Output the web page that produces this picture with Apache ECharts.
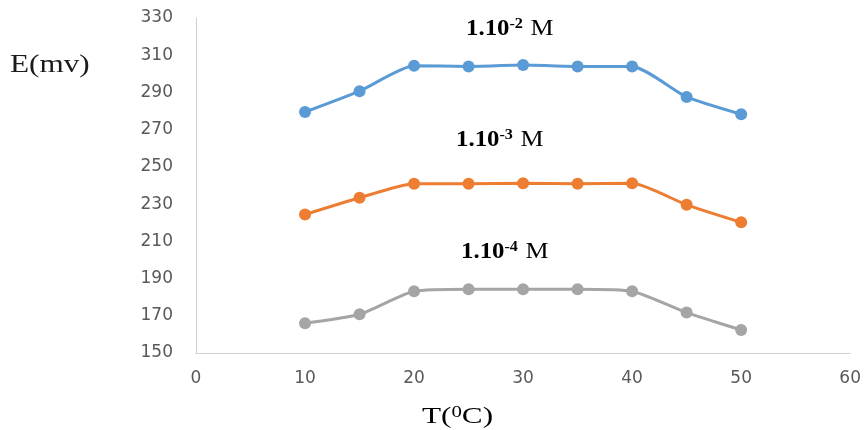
<!DOCTYPE html>
<html><head><meta charset="utf-8">
<script src="https://cdn.jsdelivr.net/npm/echarts@6/dist/echarts.min.js"></script>
<style>html,body{margin:0;padding:0;background:#fff}#c{width:864px;height:430px}</style>
</head><body><div id="c"></div>
<script>
const temps = [10, 15, 20, 25, 30, 35, 40, 45, 50];
const e1e2 = [279.5, 290.7, 304.3, 304.0, 304.7, 304.0, 304.0, 287.6, 278.3];
const e1e3 = [224.4, 233.4, 241.0, 241.0, 241.2, 241.0, 241.2, 229.6, 220.2];
const e1e4 = [166.0, 170.8, 183.2, 184.3, 184.3, 184.3, 183.2, 171.7, 162.4];
const seriesNames = ['1.10-2 M', '1.10-3 M', '1.10-4 M'];
const colors = ['#5B9BD5', '#ED7D31', '#A5A5A5'];
const xTicks = {min: 0, max: 60, interval: 10};
const yTicks = {min: 150, max: 330, interval: 20};

const chart = echarts.init(document.getElementById('c'));
const mk = (vals, i) => ({
  name: seriesNames[i], type: 'line', smooth: 0.2,
  data: temps.map((t, k) => [t, vals[k]]),
  symbol: 'circle', symbolSize: 12,
  lineStyle: {color: colors[i], width: 3},
  itemStyle: {color: colors[i]}
});
const richLbl = {
  a: {fontFamily: 'Liberation Serif', fontWeight: 'bold', fontSize: 23, color: '#1a1a1a'},
  s: {fontFamily: 'Liberation Serif', fontWeight: 'bold', fontSize: 15, color: '#1a1a1a', padding: [0, 1, 10, 0]},
  m: {fontFamily: 'Liberation Serif', fontWeight: 'normal', fontSize: 24, color: '#1a1a1a'}
};
const lbl = (x, y, exp) => ({
  type: 'text', x: x, y: y, scaleX: 1.08,
  style: {text: '{a|1.10}{s|' + exp + '}{m| M}', rich: richLbl, verticalAlign: 'middle'}
});
chart.setOption({
  animation: false,
  grid: {left: 196, right: 13, top: 18, bottom: 77},
  xAxis: {
    type: 'value', min: xTicks.min, max: xTicks.max, interval: xTicks.interval,
    axisLine: {lineStyle: {color: '#D0D0D0', width: 1}},
    axisTick: {show: false}, splitLine: {show: false},
    axisLabel: {color: '#595959', fontSize: 17, fontFamily: 'DejaVu Sans', margin: 17}
  },
  yAxis: {
    type: 'value', min: yTicks.min, max: yTicks.max, interval: yTicks.interval,
    axisLine: {show: true, lineStyle: {color: '#D0D0D0', width: 1}},
    axisTick: {show: false}, splitLine: {show: false},
    axisLabel: {color: '#595959', fontSize: 17, fontFamily: 'DejaVu Sans', margin: 23}
  },
  series: [mk(e1e2, 0), mk(e1e3, 1), mk(e1e4, 2)],
  graphic: [
    lbl(466, 29, '-2'), lbl(456, 140, '-3'), lbl(461, 252, '-4'),
    {type: 'text', x: 10, y: 65, scaleX: 1.2, style: {text: 'E(mv)', fontFamily: 'Liberation Serif', fontSize: 26, fill: '#1a1a1a', verticalAlign: 'middle'}},
    {type: 'text', x: 422, y: 417, scaleX: 1.3, style: {
      text: '{a|T(}{s|0}{a|C)}', verticalAlign: 'middle',
      rich: {
        a: {fontFamily: 'Liberation Serif', fontSize: 24, color: '#1a1a1a'},
        s: {fontFamily: 'Liberation Serif', fontSize: 16, color: '#1a1a1a', padding: [0, 0, 8, 0]}
      }}}
  ]
});
</script></body></html>
